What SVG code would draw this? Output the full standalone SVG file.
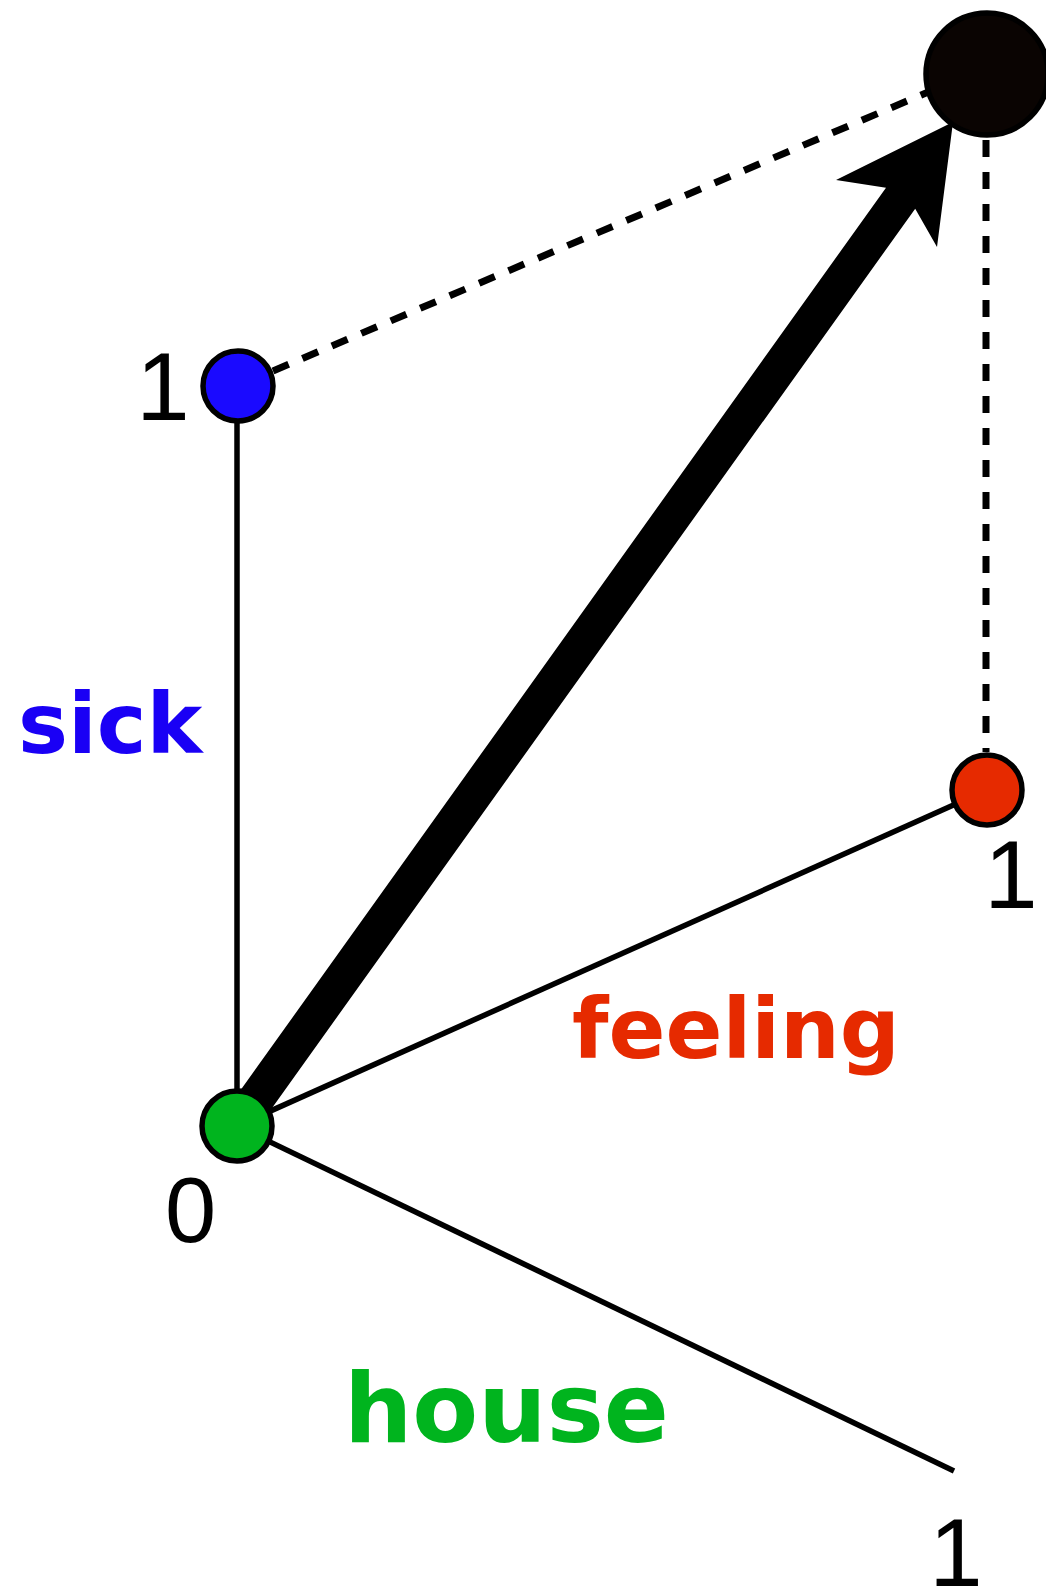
<svg xmlns="http://www.w3.org/2000/svg" width="1046" height="1594" viewBox="0 0 1046 1594">
  <style>
    .line { stroke: #000; stroke-width: 5.5; fill: none; stroke-linecap: butt; }
    .dash { stroke: #000; stroke-width: 7; fill: none; stroke-dasharray: 17 15; }
    .node { stroke: #000; stroke-width: 5.5; }
    .num { font-family: Arimo, "Liberation Sans", Helvetica, Arial, Roboto, "Noto Sans", sans-serif; font-size: 96px; fill: #000; text-anchor: middle; }
    .lab { font-family: "DejaVu Sans", Verdana, sans-serif; font-weight: bold; }
  </style>
  <rect width="1046" height="1594" fill="#fff"/>
  <g id="connectors">
    <line class="line" x1="237" y1="386" x2="237" y2="1126"/>
    <line class="line" x1="237" y1="1126" x2="987" y2="790"/>
    <line class="line" x1="237" y1="1126" x2="954" y2="1471"/>
    <line class="dash" x1="273" y1="371" x2="987" y2="67"/>
    <line class="dash" x1="986" y1="140" x2="986" y2="752"/>
    <polygon id="arrow" fill="#000" points="953,122 937,247 915.2,208.7 251.6,1136.5 222.4,1115.5 886,187.7 836,180"/>
  </g>
  <g id="node-top"><circle class="node" cx="987" cy="74" r="61" fill="#0a0402"/></g>
  <g id="node-sick"><circle class="node" cx="238" cy="386" r="35" fill="#1a0aff"/></g>
  <g id="node-feeling"><circle class="node" cx="987" cy="790" r="35" fill="#e62a00"/></g>
  <g id="node-origin"><circle class="node" cx="237" cy="1126" r="35" fill="#00b41e"/></g>
  <g id="labels">
    <text class="num" x="163" y="420">1</text>
    <text class="num" x="1011" y="908">1</text>
    <text class="num" x="956" y="1586">1</text>
    <text class="num" x="190.5" y="1242" style="font-size:92px">0</text>
  </g>
  <g id="word-labels">
    <text class="lab" x="18" y="753" font-size="84" fill="#1a00f5">sick</text>
    <text class="lab" x="572" y="1058" font-size="84" fill="#e62a00">feeling</text>
    <text class="lab" x="344" y="1442" font-size="96" fill="#00b41e">house</text>
  </g>
</svg>
